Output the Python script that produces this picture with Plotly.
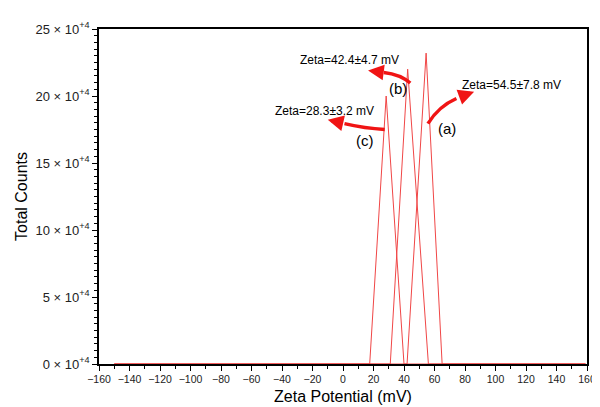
import plotly.graph_objects as go

# Data (y in units of 10^4 counts)
x_range_start = -150
x_range_end = 159
series_names = ["(a)", "(b)", "(c)"]
peak_x = [54.5, 42.4, 28.3]
peak_y = [23.2, 22.0, 20.0]
foot_left = [42.0, 31.0, 17.5]
foot_right = [65.0, 56.0, 40.0]

x_ticks = list(range(-160, 161, 20))
y_ticks = [0, 5, 10, 15, 20, 25]
y_tick_labels = [f"{v} × 10<sup>+4</sup>" for v in y_ticks]

line_color = "rgb(240,70,70)"
font_family = "Arial, 'Liberation Sans', sans-serif"

fig = go.Figure()
for i, name in enumerate(series_names):
    xs = [x_range_start, foot_left[i], peak_x[i], foot_right[i], x_range_end]
    ys = [0, 0, peak_y[i], 0, 0]
    fig.add_trace(go.Scatter(x=xs, y=ys, mode="lines", name=name,
                             line=dict(color=line_color, width=1),
                             showlegend=False, hoverinfo="skip"))

arrow_color = "rgb(240,20,20)"

def px2x(px):
    return (px - 334.5) / 1.553

def py2y(py):
    return (361 - py) / 13.88

# curved arrow bodies: (tail, control, near-head, tip) in pixel coords
arrows = [
    ((403, 70), (393, 61), (376, 59), (360, 57)),
    ((421, 112), (432, 94), (450, 86), (468, 79)),
    ((377, 118), (357, 117), (336, 112), (319, 108)),
]
for tail, ctrl, near, tip in arrows:
    path = (f"M {px2x(tail[0])},{py2y(tail[1])} "
            f"Q {px2x(ctrl[0])},{py2y(ctrl[1])} {px2x(near[0])},{py2y(near[1])}")
    fig.add_shape(type="path", path=path, xref="x", yref="y",
                  line=dict(color=arrow_color, width=3.5))
    fig.add_annotation(x=px2x(tip[0]), y=py2y(tip[1]), xref="x", yref="y",
                       ax=px2x(near[0] + (near[0] - ctrl[0]) * 0.2),
                       ay=py2y(near[1] + (near[1] - ctrl[1]) * 0.2),
                       axref="x", ayref="y",
                       text=" ", showarrow=True, arrowhead=2, arrowsize=0.9,
                       arrowwidth=3.5, arrowcolor=arrow_color, standoff=0,
                       startstandoff=0)

# text labels
texts = [
    ("Zeta=42.4±4.7 mV", 341, 46, 12),
    ("Zeta=54.5±7.8 mV", 506, 72, 12),
    ("Zeta=28.3±3.2 mV", 316, 99, 12),
    ("(b)", 390, 76, 15),
    ("(a)", 440, 117, 15),
    ("(c)", 357, 130, 15),
]
for t, px, py, sz in texts:
    fig.add_annotation(x=px2x(px), y=py2y(py), xref="x", yref="y", text=t,
                       showarrow=False, font=dict(size=sz, color="black", family=font_family))

fig.update_xaxes(range=[-160, 160], tickvals=x_ticks, ticks="outside", ticklen=5,
                 tickcolor="black", showline=True, linecolor="black", linewidth=1.5,
                 mirror=True, showgrid=False, zeroline=False, layer="below traces",
                 minor=dict(dtick=10, ticks="outside", ticklen=3, tickcolor="black"),
                 tickfont=dict(size=10.5, color="#222", family=font_family),
                 title=dict(text="Zeta Potential (mV)", standoff=6,
                            font=dict(size=16, color="black", family=font_family)))
fig.update_yaxes(range=[0, 25], tickvals=y_ticks, ticktext=y_tick_labels,
                 ticks="outside", ticklen=5, tickcolor="black", showline=True,
                 linecolor="black", linewidth=1.5, mirror=True, showgrid=False,
                 zeroline=False, layer="below traces",
                 minor=dict(dtick=0.5, ticks="outside", ticklen=3, tickcolor="black"),
                 tickfont=dict(size=13, color="#222", family=font_family),
                 title=dict(text="Total Counts", standoff=4,
                            font=dict(size=16, color="black", family=font_family)))

fig.update_layout(width=600, height=407, margin=dict(l=86, r=17, t=14, b=46),
                  plot_bgcolor="white", paper_bgcolor="white",
                  font=dict(family=font_family))
fig.write_html("out.html")
